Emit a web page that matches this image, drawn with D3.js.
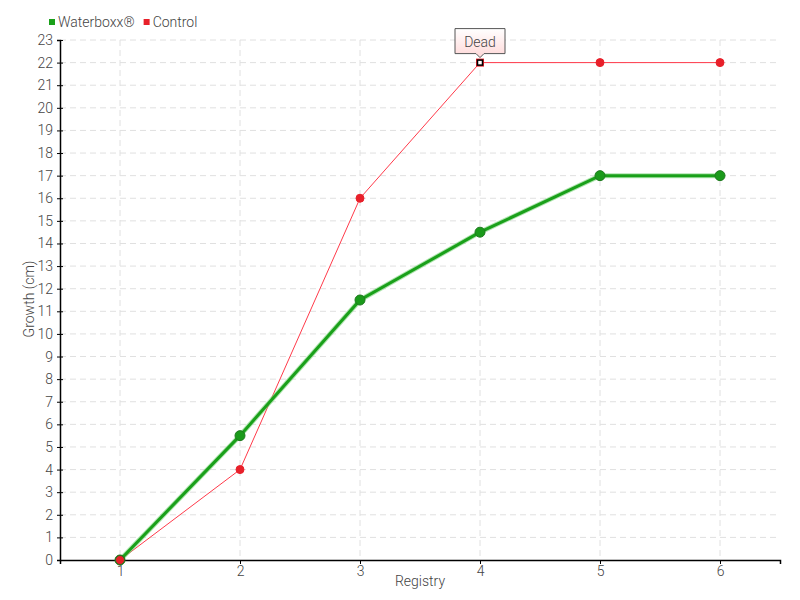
<!DOCTYPE html>
<html>
<head>
<meta charset="utf-8">
<script src="https://cdn.jsdelivr.net/npm/d3@7"></script>
<style>
  body { margin: 0; background: #fff; }
  text { font-family: Roboto, "DejaVu Sans", sans-serif; font-weight: 300; fill: #444; }
</style>
</head>
<body>
<svg id="chart" width="800" height="600"></svg>
<script>
// chart data
const registry = [1, 2, 3, 4, 5, 6];
const waterboxx = [0, 5.5, 11.5, 14.5, 17, 17];
const control = [0, 4, 16, 22, 22, 22];
const seriesNames = ["Waterboxx®", "Control"];
const deadLabel = "Dead";
const deadIndex = 3;

const svg = d3.select("#chart");
const margin = {left: 60, right: 20, top: 40, bottom: 40};
const width = 800, height = 600;

const x = d3.scaleLinear().domain([0.5, 6.5]).range([margin.left, width - margin.right]);
const y = d3.scaleLinear().domain([0, 23]).range([height - margin.bottom, margin.top]);

// grid
const grid = svg.append("g");
grid.selectAll(".hg").data(d3.range(1, 24)).enter().append("line")
    .attr("x1", margin.left).attr("x2", width - margin.right)
    .attr("y1", d => y(d)).attr("y2", d => y(d))
    .attr("stroke", "#e0e0e0").attr("stroke-dasharray", "6,4");
grid.selectAll(".vg").data(registry).enter().append("line")
    .attr("x1", d => x(d)).attr("x2", d => x(d))
    .attr("y1", margin.top).attr("y2", height - margin.bottom)
    .attr("stroke", "#e0e0e0").attr("stroke-dasharray", "6,4");

// axes
const yAxis = svg.append("g")
    .attr("transform", `translate(${margin.left},0)`)
    .call(d3.axisLeft(y).tickValues(d3.range(0, 24)).tickFormat(d3.format("d")).tickSize(3).tickPadding(4));
const xAxis = svg.append("g")
    .attr("transform", `translate(0,${height - margin.bottom})`)
    .call(d3.axisBottom(x).tickValues(registry).tickFormat(d3.format("d")).tickSize(4).tickPadding(2));
[xAxis, yAxis].forEach(a => {
    a.select(".domain").attr("stroke", "#000").attr("stroke-width", 1.5);
    a.selectAll(".tick line").attr("stroke", "#000");
    a.selectAll("text").style("font-size", "14px").style("font-family", null).attr("fill", "#444");
});
yAxis.selectAll(".tick line").attr("x2", 3).attr("x1", -3);

svg.append("text").attr("x", 420).attr("y", 586).attr("text-anchor", "middle")
    .style("font-size", "14px").text("Registry");
svg.append("text").attr("transform", "translate(34,299) rotate(-90)").attr("text-anchor", "middle")
    .style("font-size", "14px").text("Growth (cm)");

const line = d3.line().x((d, i) => x(registry[i])).y(d => y(d));

// control series
svg.append("path").datum(control).attr("d", line)
    .attr("fill", "none").attr("stroke", "#ff3a4a").attr("stroke-width", 1);
const controlPts = control.map((v, i) => ({r: registry[i], v: v, i: i})).filter(p => p.i !== deadIndex);
svg.selectAll(".cpt").data(controlPts).enter().append("circle")
    .attr("cx", d => x(d.r)).attr("cy", d => y(d.v))
    .attr("r", 4).attr("fill", "#e8202a").attr("stroke", "#e8202a");

// waterboxx series
svg.append("path").datum(waterboxx).attr("d", line)
    .attr("fill", "none").attr("stroke", "#7bd47b").attr("stroke-width", 5).attr("opacity", 0.6);
svg.append("path").datum(waterboxx).attr("d", line)
    .attr("fill", "none").attr("stroke", "#1aa01a").attr("stroke-width", 3);
svg.selectAll(".wpt").data(waterboxx).enter().append("circle")
    .attr("cx", (d, i) => x(registry[i])).attr("cy", d => y(d))
    .attr("r", 5).attr("fill", "#1a9a1a").attr("stroke", "#1e7a1e").attr("stroke-width", 1);

// first control point drawn on top
svg.append("circle").attr("cx", x(registry[0])).attr("cy", y(control[0]))
    .attr("r", 4.5).attr("fill", "#e8202a").attr("stroke", "#2e6e1e").attr("stroke-width", 1);

// dead marker
const dx = x(registry[deadIndex]), dy = y(control[deadIndex]);
svg.append("rect").attr("x", dx - 4).attr("y", dy - 4).attr("width", 8).attr("height", 8)
    .attr("fill", "#e8202a");
svg.append("rect").attr("x", dx - 2.5).attr("y", dy - 2.5).attr("width", 5).attr("height", 5)
    .attr("fill", "#fff").attr("stroke", "#000").attr("stroke-width", 1.5);

// tooltip
const defs = svg.append("defs");
const grad = defs.append("linearGradient").attr("id", "tip").attr("x1", 0).attr("y1", 0).attr("x2", 0).attr("y2", 1);
grad.append("stop").attr("offset", "0%").attr("stop-color", "#ffffff");
grad.append("stop").attr("offset", "100%").attr("stop-color", "#ffd8d8");
const tw = 50, th = 25, tx = dx - 25, ty = dy - 34;
svg.append("path")
    .attr("d", `M${tx},${ty} h${tw} v${th} h${-(tw / 2 - 4)} l-4,4 l-4,-4 h${-(tw / 2 - 4)} Z`)
    .attr("fill", "url(#tip)").attr("stroke", "#555").attr("stroke-width", 1);
svg.append("text").attr("x", dx).attr("y", ty + 18).attr("text-anchor", "middle")
    .style("font-size", "14px").text(deadLabel);

// legend
const colors = ["#1aa01a", "#e8202a"];
const legend = svg.append("g").attr("transform", "translate(49,16)");
let lx = 0;
seriesNames.forEach((name, i) => {
    const g = legend.append("g").attr("transform", `translate(${lx},0)`);
    g.append("rect").attr("x", 0).attr("y", 3).attr("width", 6).attr("height", 6).attr("fill", colors[i]);
    const t = g.append("text").attr("x", 9).attr("y", 11).style("font-size", "14px").text(name);
    lx += 9 + t.node().getComputedTextLength() + 9;
});
</script>
</body>
</html>
